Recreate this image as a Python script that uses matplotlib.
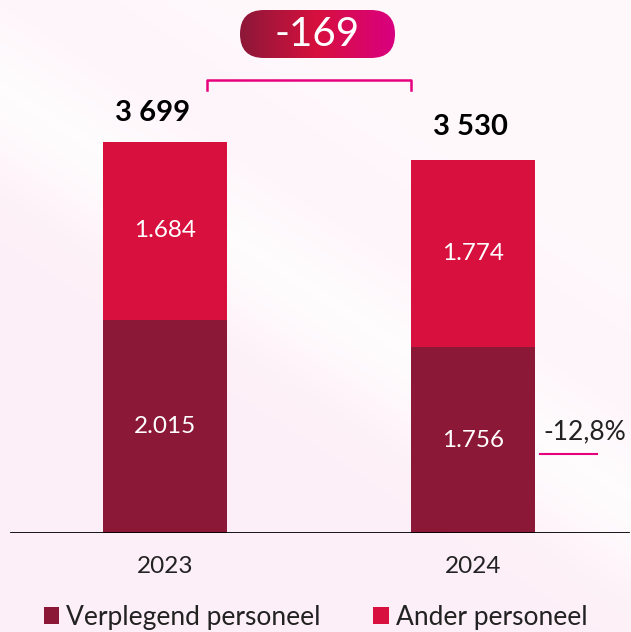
import numpy as np
import matplotlib.pyplot as plt
from matplotlib.patches import FancyBboxPatch
from matplotlib.colors import LinearSegmentedColormap

years = ['2023', '2024']
verplegend = [2015, 1756]
ander = [1684, 1774]
verplegend_labels = ['2.015', '1.756']
ander_labels = ['1.684', '1.774']
total_labels = ['3 699', '3 530']
diff_label = '-169'
pct_label = '-12,8%'

DARK = '#8c1838'
RED = '#d7103e'
PINK = '#e6007e'
FONT = ['Lato', 'DejaVu Sans']

plt.rcParams['font.family'] = FONT

fig = plt.figure(figsize=(6.31, 6.32), dpi=100)

# background: pale pink with a lighter diagonal band
bg = fig.add_axes([0, 0, 1, 1], zorder=0)
yy, xx = np.mgrid[0:1:300j, 0:1:300j]
d = (yy - (0.15 + 0.65 * xx))
light = np.exp(-(d / 0.12) ** 2) * 0.8 + np.clip(-d * 2.5, 0, 1) * 0.6
light = np.clip(light, 0, 1)
base = np.array([0.995, 0.94, 0.97])
img = base + (np.array([1, 1, 1]) - base) * light[..., None]
bg.imshow(img, extent=[0, 1, 0, 1], aspect='auto', origin='upper')
bg.set_axis_off()

ax = fig.add_axes([0, (632 - 533) / 632, 1, 533 / 632], zorder=1)
ax.patch.set_alpha(0)
x = np.arange(len(years))
w = 0.40
ax.bar(x, verplegend, width=w, color=DARK, label='Verplegend personeel')
ax.bar(x, ander, width=w, bottom=verplegend, color=RED, label='Ander personeel')
ax.set_xlim(-165 / 308, (631 - 165) / 308)
ax.set_ylim(0, 5042)
ax.set_axis_off()

ax.axhline(0, xmin=11 / 631, xmax=628 / 631, color='black', lw=2, zorder=3)

for i in range(len(years)):
    ax.text(x[i], verplegend[i] / 2, verplegend_labels[i], ha='center', va='center',
            color='white', fontsize=17.5)
    ax.text(x[i], verplegend[i] + ander[i] / 2, ander_labels[i], ha='center', va='center',
            color='white', fontsize=17.5)
    tot = verplegend[i] + ander[i]
    ax.annotate(total_labels[i], (x[i], tot), xytext=(-12 if i == 0 else -3, 29 if i == 0 else 33),
                textcoords='offset pixels', ha='center', va='center',
                fontsize=21, fontweight='bold', color='black')
    ax.text(x[i], -320, years[i], ha='center', va='center', fontsize=17.5,
            color='#222222', clip_on=False)

# bracket between totals
bx0, bx1 = 207 / 631, 411 / 631
by0, by1 = 1 - 90 / 632, 1 - 80 / 632
fig.add_artist(plt.Line2D([bx0, bx0, bx1, bx1], [by0, by1, by1, by0],
                          color=PINK, lw=1.8, transform=fig.transFigure))

# pill with gradient, axes measured in pixels
pw, ph = 155, 48
px0, py0 = 240 / 631, 1 - 58 / 632
pax = fig.add_axes([px0, py0, pw / 631, ph / 632], zorder=2)
cmap = LinearSegmentedColormap.from_list('pill', [DARK, RED, '#da0080'])
grad = np.linspace(0, 1, 256)[None, :]
im = pax.imshow(grad, cmap=cmap, extent=[0, pw, 0, ph], aspect='auto')
clip = FancyBboxPatch((0, 0), pw, ph, boxstyle='round,pad=0,rounding_size=%f' % (ph / 2),
                      transform=pax.transData, facecolor='none', edgecolor='none')
pax.add_patch(clip)
im.set_clip_path(clip)
pax.set_xlim(0, pw)
pax.set_ylim(0, ph)
pax.set_axis_off()
fig.text(px0 + pw / 631 / 2, py0 + ph / 632 / 2, diff_label, ha='center', va='center',
         color='white', fontsize=29, zorder=5)

# percentage note
fig.text(585 / 631, 1 - 432 / 632, pct_label, ha='center', va='center',
         fontsize=19, color='#222222')
fig.add_artist(plt.Line2D([540 / 631, 597 / 631], [1 - 454 / 632] * 2,
                          color=PINK, lw=1.5, transform=fig.transFigure))

leg = fig.legend(loc='center', bbox_to_anchor=(0.5, 1 - 617 / 632), ncol=2, frameon=False,
                 handlelength=0.6, handleheight=0.6, handletextpad=0.25,
                 columnspacing=2.0, prop={'family': FONT, 'size': 19})
for t in leg.get_texts():
    t.set_color('#222222')

fig.savefig('out.png', dpi=100)
